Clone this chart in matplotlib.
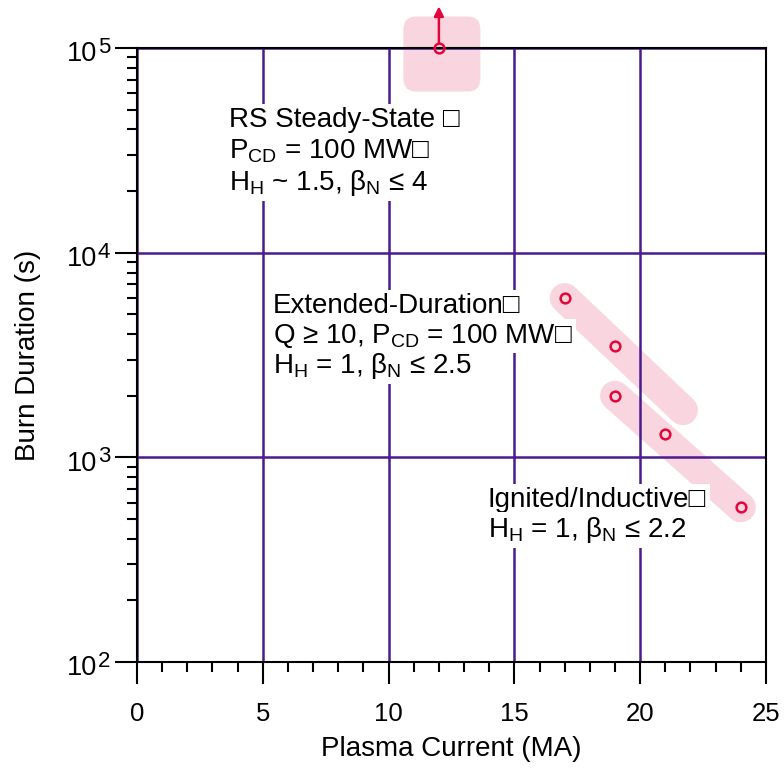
import numpy as np
import matplotlib
matplotlib.use('Agg')
import matplotlib.pyplot as plt
from matplotlib.patches import FancyBboxPatch
from matplotlib.transforms import ScaledTranslation, offset_copy, blended_transform_factory
from matplotlib.ticker import MultipleLocator, FixedLocator, LogLocator, NullFormatter

plt.rcParams['font.family'] = ['Liberation Sans', 'DejaVu Sans']
plt.rcParams['mathtext.fontset'] = 'custom'
plt.rcParams['mathtext.rm'] = 'Liberation Sans'
plt.rcParams['mathtext.it'] = 'Liberation Sans:italic'
plt.rcParams['mathtext.bf'] = 'Liberation Sans:bold'
plt.rcParams['font.size'] = 18

# data
current = [12, 17, 19, 19, 21, 24]            # MA
duration = [1e5, 6000, 3500, 2000, 1300, 570]  # s
# pink highlight bands (start/end)
band1_x = [17, 21.7]
band1_y = [6000, 1700]
band2_x = [19, 24]
band2_y = [2000, 570]
steady_x, steady_y = 12, 1e5
y_decades = [2, 3, 4, 5]

red = '#e4063a'
pink = '#f9d6df'
purple = '#4a1a8e'

label1 = ['RS Steady-State \u25a1',
          'P$_{\\mathrm{CD}}$ = 100 MW\u25a1',
          'H$_{\\mathrm{H}}$ ~ 1.5, \u03b2$_{\\mathrm{N}}$ \u2264 4']
label2 = ['Extended-Duration\u25a1',
          'Q \u2265 10, P$_{\\mathrm{CD}}$ = 100 MW\u25a1',
          'H$_{\\mathrm{H}}$ = 1, \u03b2$_{\\mathrm{N}}$ \u2264 2.5']
label3 = ['Ignited/Inductive\u25a1',
          'H$_{\\mathrm{H}}$ = 1, \u03b2$_{\\mathrm{N}}$ \u2264 2.2']

fig = plt.figure(figsize=(7.84, 7.78), dpi=100)
ax = fig.add_axes([0.1747, 0.1491, 0.8023, 0.7892])
ax.set_yscale('log')
ax.set_xlim(0, 25)
ax.set_ylim(1e2, 1e5)

# bands behind the grid
ax.plot(band1_x, band1_y, lw=21.6, color=pink, solid_capstyle='round', zorder=0.2)
ax.plot(band2_x, band2_y, lw=21.6, color=pink, solid_capstyle='round', zorder=0.2)

# rounded box around the steady-state point
tr = fig.dpi_scale_trans + ScaledTranslation(steady_x, steady_y, ax.transData)
box = FancyBboxPatch((-0.355, -0.435), 0.77, 0.75,
                     boxstyle='round,pad=0,rounding_size=0.13',
                     transform=tr, fc=pink, ec='none', zorder=0.2, clip_on=False)
ax.add_patch(box)

ax.plot(current, duration, 'o', ms=7, mfc='none', mec=red, mew=1.8,
        zorder=4, clip_on=False)

# arrow up from steady-state point
tip = offset_copy(ax.transData, fig=fig, x=0, y=30, units='points')
ax.annotate('', xy=(steady_x, steady_y), xycoords=tip,
            xytext=(0, -26), textcoords='offset points',
            arrowprops=dict(arrowstyle='-|>', color=red, lw=1.8,
                            mutation_scale=14, shrinkA=0, shrinkB=0),
            annotation_clip=False, zorder=4)

ax.set_axisbelow(True)
ax.grid(True, which='major', color=purple, lw=1.8)

ax.xaxis.set_major_locator(MultipleLocator(5))
ax.xaxis.set_minor_locator(MultipleLocator(1))
ax.yaxis.set_major_locator(FixedLocator([10.0 ** d for d in y_decades]))
ax.yaxis.set_minor_locator(LogLocator(base=10, subs=np.arange(2, 10)))
ax.yaxis.set_major_formatter(NullFormatter())
ax.yaxis.set_minor_formatter(NullFormatter())

ax.tick_params(which='major', direction='out', length=15.5, width=1.5, labelsize=18.5)
ax.tick_params(which='minor', direction='out', length=7, width=1.5)
ax.tick_params(axis='x', which='major', pad=13)
for s in ax.spines.values():
    s.set_linewidth(1.5)

# y tick labels as 10 + raised exponent
ytr = blended_transform_factory(ax.transAxes, ax.transData)
base_tr = offset_copy(ytr, fig=fig, x=-28.5, y=-9.5, units='points')
exp_tr = offset_copy(ytr, fig=fig, x=-28.2, y=-3.5, units='points')
for d in y_decades:
    ax.text(0, 10.0 ** d, '10', transform=base_tr, ha='right', va='baseline',
            fontsize=19.5, clip_on=False)
    ax.text(0, 10.0 ** d, str(d), transform=exp_tr, ha='left', va='baseline',
            fontsize=16, clip_on=False)

ax.set_xlabel('Plasma Current (MA)', fontsize=20)
ax.set_ylabel('Burn Duration (s)', fontsize=20)
ax.xaxis.set_label_coords(0.5, -0.12)
ax.yaxis.set_label_coords(-0.152, 0.5)

box_kw = dict(facecolor='white', edgecolor='none', pad=2.5)
def block(lines, x, ys):
    for s, y in zip(lines, ys):
        ax.text(x, y, s, transform=ax.transAxes, ha='left', va='baseline',
                fontsize=20, bbox=box_kw, zorder=3)

block(label1, 0.1463, [0.8713, 0.8208, 0.7687])
block(label2, 0.2162, [0.5684, 0.5195, 0.4707])
block(label3, 0.558, [0.2524, 0.2036])

fig.savefig('out.png', dpi=100)
